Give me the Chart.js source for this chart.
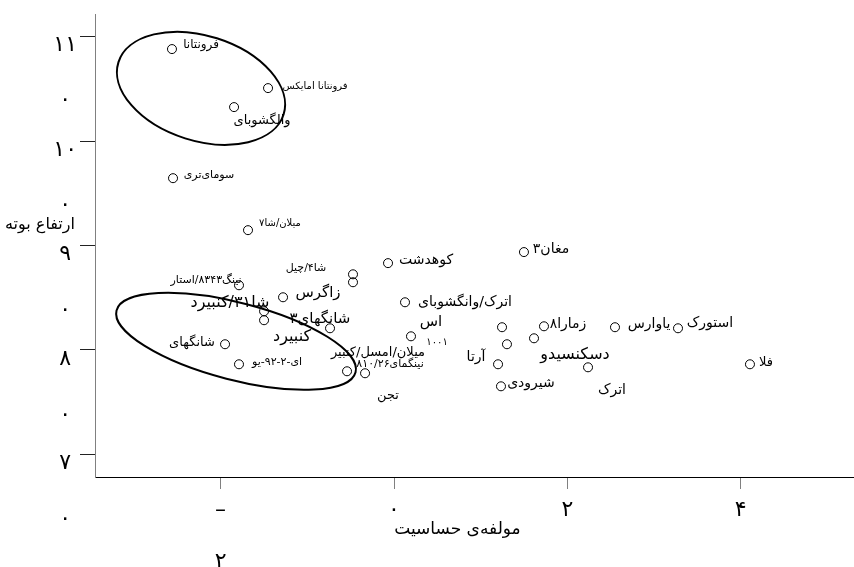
<!DOCTYPE html>
<html lang="fa">
<head>
<meta charset="utf-8">
<title>ارتفاع بوته و مولفه‌ی حساسیت</title>
<script src="https://cdn.jsdelivr.net/npm/chart.js@4.4.0/dist/chart.umd.min.js"></script>
<style>
  html, body { margin: 0; padding: 0; background: #fff; }
  #wrap { width: 854px; height: 567px; }
</style>
</head>
<body>
<div id="wrap"><canvas id="biplot" width="854" height="567"></canvas></div>
<script>
// genotype scores (x = sensitivity component, y = plant height)
const pointX = [-2.561, -1.453, -1.845, -2.549, -1.684, -1.788, -1.499, -1.499, -1.949, -1.788,
  -1.280, -0.473, -0.473, -0.738, -0.542, -0.334, 0.196, -0.069, 0.127, 1.499,
  1.246, 1.303, 1.615, 1.730, 2.549, 3.276, 1.200, 1.234, 2.238, 4.106];
const pointY = [10.882, 10.508, 10.326, 9.645, 9.147, 8.619, 8.370, 8.284, 8.054, 7.862,
  8.504, 8.724, 8.648, 8.207, 7.795, 7.776, 8.130, 8.831, 8.456, 8.937,
  8.217, 8.054, 8.111, 8.226, 8.217, 8.207, 7.862, 7.651, 7.833, 7.862];

// genotype names and where they sit (data units)
const labelText = ['فرونتانا', 'فرونتانا امایکس', 'والگشوبای', 'سومای‌تری', 'میلان/شا۷',
  'نینگ۸۳۴۳/استار', 'شا۳۱/کنبیرد', 'کنبیرد', 'شانگهای', 'ای-۲-۹۲-یو',
  'زاگرس', 'شا۴/چیل', 'شانگهای۳', 'میلان/امسل/کنبیر', 'نینگمای۸۱۰/۲۶',
  'تجن', 'اس', '۱۰۰۱', 'کوهدشت', 'اترک/وانگشوبای',
  'مغان۳', 'زمارا۸', 'یاوارس', 'استورک', 'آرتا',
  'دسکنسیدو', 'شیرودی', 'اترک', 'فلا'];
const labelX = [-2.226, -0.911, -1.522, -2.134, -1.315, -2.168, -1.892, -1.176, -2.330, -1.349,
  -0.877, -1.015, -0.854, -0.185, -0.046, -0.069, 0.427, 0.496, 0.369, 0.819,
  1.811, 2.007, 2.941, 3.645, 0.946, 2.088, 1.580, 2.514, 4.291];
const labelY = [10.920, 10.527, 10.201, 9.674, 9.214, 8.667, 8.447, 8.121, 8.073, 7.881,
  8.543, 8.782, 8.293, 7.977, 7.862, 7.565, 8.265, 8.073, 8.859, 8.456,
  8.965, 8.245, 8.245, 8.255, 7.929, 7.948, 7.680, 7.613, 7.881];
const labelSize = [12, 10, 13, 11, 10, 11, 16, 16, 13, 11,
  15, 11, 15, 13, 11, 13, 15, 10, 14, 14,
  14, 14, 14, 14, 14, 16, 14, 14, 13];

// group ellipses: centre, half axes (x units), tilt in degrees
const ellipseX = [-2.226, -1.822];
const ellipseY = [10.506, 8.082];
const ellipseA = [0.999, 1.424];
const ellipseB = [0.606, 0.445];
const ellipseTilt = [17.6, 14.5];

// axes
const xTickValues = [-2, 0, 2, 4];
const xTickLabels = [['–', '', '۲'], '۰', '۲', '۴'];
const yTickValues = [6.462, 7, 7.459, 8, 8.466, 9, 9.473, 10, 10.479, 11];
const yTickLabels = ['۰', '۷', '۰', '۸', '۰', '۹', '۰', '۱۰', '۰', '۱۱'];
const xTitle = 'مولفه‌ی حساسیت\u2003\u2003';
const yTitle = 'ارتفاع بوته';

Chart.defaults.font.family = '"DejaVu Sans", sans-serif';
Chart.defaults.color = '#000';

const annotate = {
  id: 'annotate',
  afterDatasetsDraw(chart) {
    const ctx = chart.ctx;
    const x = chart.scales.x, y = chart.scales.y;
    const unit = x.getPixelForValue(1) - x.getPixelForValue(0);
    ctx.save();
    ctx.strokeStyle = '#000';
    ctx.lineWidth = 2;
    for (let i = 0; i < ellipseX.length; i++) {
      ctx.beginPath();
      ctx.ellipse(x.getPixelForValue(ellipseX[i]), y.getPixelForValue(ellipseY[i]),
        ellipseA[i] * unit, ellipseB[i] * unit, ellipseTilt[i] * Math.PI / 180, 0, Math.PI * 2);
      ctx.stroke();
    }
    ctx.fillStyle = '#000';
    ctx.textAlign = 'center';
    ctx.textBaseline = 'middle';
    for (let i = 0; i < labelText.length; i++) {
      ctx.font = labelSize[i] + 'px "DejaVu Sans"';
      ctx.fillText(labelText[i], x.getPixelForValue(labelX[i]), y.getPixelForValue(labelY[i]));
    }
    ctx.font = '16px "DejaVu Sans"';
    ctx.fillText(yTitle, 40, y.getPixelForValue(9.195));
    ctx.restore();
  }
};

const chart = new Chart(document.getElementById('biplot'), {
  type: 'scatter',
  data: {
    datasets: [{
      data: pointX.map((v, i) => ({ x: v, y: pointY[i] })),
      pointStyle: 'circle',
      pointRadius: 4.5,
      pointBorderWidth: 1,
      borderColor: '#000',
      backgroundColor: 'rgba(0,0,0,0)'
    }]
  },
  options: {
    responsive: false,
    animation: false,
    layout: { autoPadding: false, padding: { top: 14, left: 0, right: 0, bottom: 0 } },
    plugins: { legend: { display: false }, tooltip: { enabled: false } },
    scales: {
      x: {
        type: 'linear',
        min: -3.449,
        max: 5.306,
        afterBuildTicks: (axis) => { axis.ticks = xTickValues.map(v => ({ value: v })); },
        afterFit: (axis) => {
          axis.height = 90;
          axis.paddingLeft = 0; axis.paddingRight = 0;
        },
        border: { display: true, color: '#000', width: 1 },
        grid: { drawOnChartArea: false, drawTicks: true, tickLength: 12, tickColor: '#808080', tickWidth: 1 },
        ticks: {
          autoSkip: false,
          maxRotation: 0,
          padding: 8,
          font: { size: 22, lineHeight: 1.18 },
          callback: (value, index) => xTickLabels[index]
        },
        title: {
          display: true,
          text: xTitle,
          font: { size: 17 },
          padding: { top: 0, bottom: 27 }
        }
      },
      y: {
        type: 'linear',
        min: 6.782,
        max: 11.218,
        afterBuildTicks: (axis) => { axis.ticks = yTickValues.map(v => ({ value: v })); },
        afterFit: (axis) => {
          axis.width = 95;
          axis.paddingTop = 0; axis.paddingBottom = 0;
        },
        border: { display: true, color: '#808080', width: 1 },
        grid: {
          drawOnChartArea: false,
          drawTicks: true,
          tickLength: 15,
          tickWidth: 1,
          tickColor: (c) => Number.isInteger(c.tick.value) ? '#222' : 'rgba(0,0,0,0)'
        },
        ticks: {
          autoSkip: false,
          padding: 3,
          crossAlign: 'center',
          labelOffset: 9,
          font: { size: 22 },
          callback: (value, index) => yTickLabels[index]
        }
      }
    }
  },
  plugins: [annotate]
});
</script>
</body>
</html>
